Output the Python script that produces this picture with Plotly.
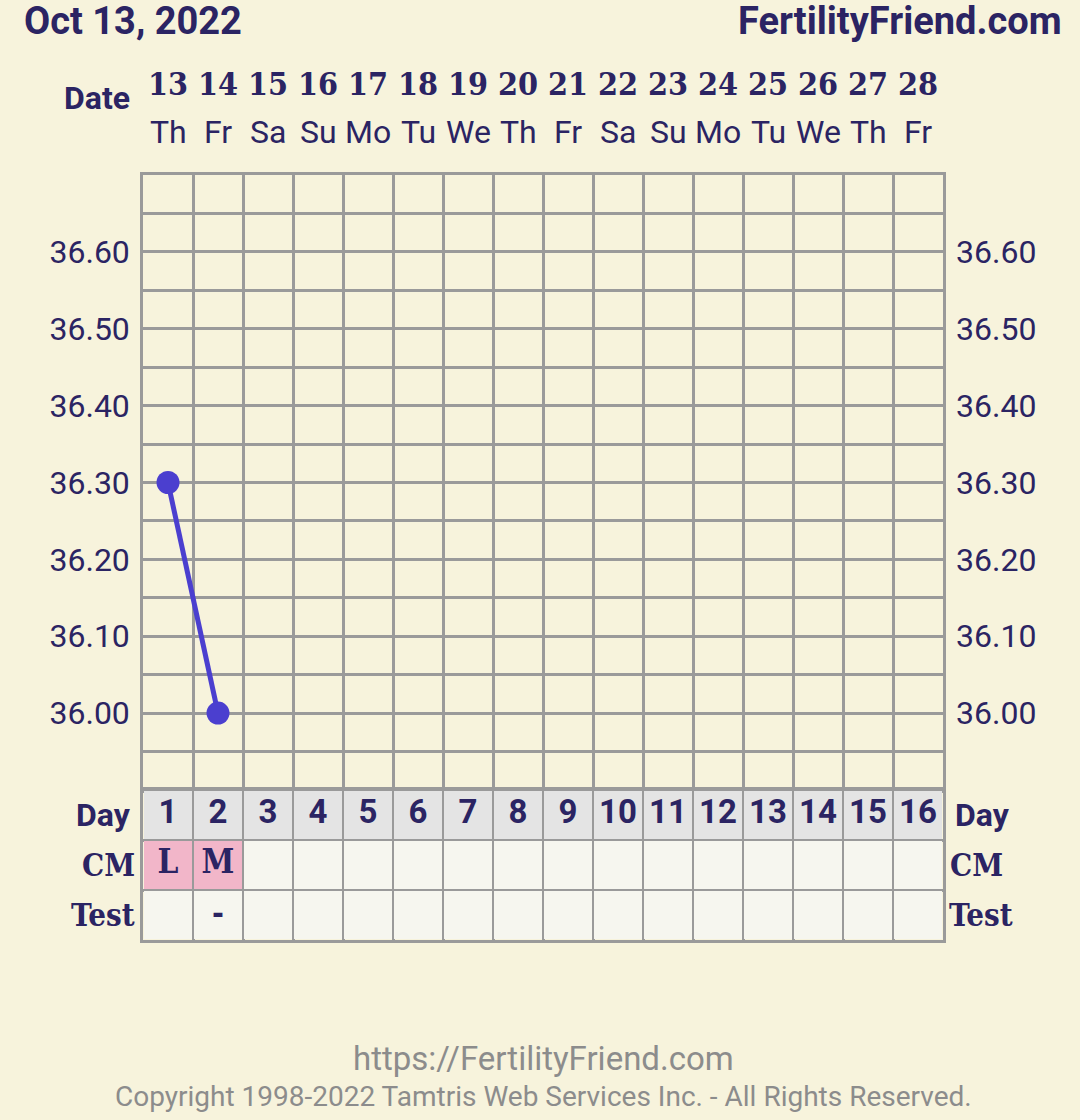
import plotly.graph_objects as go

# ---------------- data ----------------
title_date = "Oct 13, 2022"
site_name = "FertilityFriend.com"
dates = ["13", "14", "15", "16", "17", "18", "19", "20", "21", "22", "23", "24", "25", "26", "27", "28"]
weekdays = ["Th", "Fr", "Sa", "Su", "Mo", "Tu", "We", "Th", "Fr", "Sa", "Su", "Mo", "Tu", "We", "Th", "Fr"]
cycle_days = list(range(1, 17))
temp_days = [1, 2]
temps = [36.30, 36.00]
cm_values = ["L", "M", "", "", "", "", "", "", "", "", "", "", "", "", "", ""]
test_values = ["", "-", "", "", "", "", "", "", "", "", "", "", "", "", "", ""]
row_labels = ["Day", "CM", "Test"]
temp_grid = [35.95, 36.00, 36.05, 36.10, 36.15, 36.20, 36.25, 36.30, 36.35, 36.40, 36.45, 36.50, 36.55, 36.60, 36.65]
temp_labels = [36.00, 36.10, 36.20, 36.30, 36.40, 36.50, 36.60]
temp_range = [35.90, 36.70]
footer_url = "https://FertilityFriend.com"
footer_copy = "Copyright 1998-2022 Tamtris Web Services Inc. - All Rights Reserved."

# ---------------- styles ----------------
BG = "#F7F3DC"
NAVY = "#2B2463"
GRID = "#9A9A9A"
LINE = "#4B3FCF"
SANS = "Roboto"
SERIF = "DejaVu Serif Condensed, DejaVu Serif"
W, H = 1080, 1120
L, R, T, B = 143, 137, 175, 180
plot_h = H - T - B
split = (940 - 790) / plot_h


def py(px):
    return (H - B - px) / plot_h


def px_x(px):
    return (px - L) / (W - L - R)


fig = go.Figure()

# temperature line
fig.add_trace(go.Scatter(
    x=temp_days, y=temps, mode="lines+markers",
    line=dict(color=LINE, width=5),
    marker=dict(color=LINE, size=23),
    xaxis="x", yaxis="y", hoverinfo="skip", showlegend=False, cliponaxis=False))
# helper trace for right axis
fig.add_trace(go.Scatter(x=temp_days, y=temps, mode="lines", line=dict(width=0, color="rgba(0,0,0,0)"),
                         xaxis="x", yaxis="y3", hoverinfo="skip", showlegend=False))

# table cells
codes_day = [0 for _ in cycle_days]
codes_cm = [2 if v else 1 for v in cm_values]
codes_test = [1 for _ in cycle_days]
fig.add_trace(go.Heatmap(
    x=cycle_days, y=[1, 2, 3], z=[codes_day, codes_cm, codes_test],
    zmin=0, zmax=2, showscale=False, xgap=2, ygap=2,
    colorscale=[[0, "#E4E4E4"], [0.333, "#E4E4E4"], [0.333, "#F6F6EF"], [0.666, "#F6F6EF"],
                [0.666, "#F2B6C9"], [1, "#F2B6C9"]],
    xaxis="x2", yaxis="y2", hoverinfo="skip"))

fig.add_trace(go.Scatter(
    x=cycle_days, y=[1] * len(cycle_days), mode="text", text=[str(d) for d in cycle_days],
    textfont=dict(family=SANS, size=33, color=NAVY, weight="bold"),
    xaxis="x2", yaxis="y2", hoverinfo="skip", showlegend=False))
fig.add_trace(go.Scatter(
    x=cycle_days, y=[2] * len(cycle_days), mode="text", text=cm_values,
    textfont=dict(family=SERIF, size=33, color=NAVY, weight="bold"),
    xaxis="x2", yaxis="y2", hoverinfo="skip", showlegend=False))
fig.add_trace(go.Scatter(
    x=cycle_days, y=[3] * len(cycle_days), mode="text", text=test_values,
    textfont=dict(family=SERIF, size=32, color=NAVY, weight="bold"),
    xaxis="x2", yaxis="y2", hoverinfo="skip", showlegend=False))

half_ticks = [d + 0.5 for d in range(0, 17)]
ytext = [("%.2f" % v) if any(abs(v - t) < 1e-6 for t in temp_labels) else "" for v in temp_grid]

axis_common = dict(showline=True, mirror=True, linecolor=GRID, linewidth=2.5,
                   gridcolor=GRID, gridwidth=2.5, zeroline=False, fixedrange=True)

fig.update_layout(
    width=W, height=H, paper_bgcolor=BG, plot_bgcolor=BG,
    margin=dict(l=L, r=R, t=T, b=B, autoexpand=False),
    showlegend=False,
    xaxis=dict(domain=[0, 1], range=[0.5, 16.5], anchor="y", tickmode="array", tickvals=half_ticks,
               showticklabels=False, ticks="", showgrid=True, **axis_common),
    yaxis=dict(domain=[split, 1], range=temp_range, anchor="x", tickmode="array", tickvals=temp_grid,
               ticktext=ytext, ticks="", showgrid=True, ticklabelstandoff=4,
               tickfont=dict(family=SANS, size=32, color=NAVY), **axis_common),
    yaxis3=dict(overlaying="y", side="right", range=temp_range, anchor="x", tickmode="array",
                tickvals=temp_grid, ticktext=ytext, ticks="", showgrid=False, showline=False,
                zeroline=False, ticklabelstandoff=12, fixedrange=True,
                tickfont=dict(family=SANS, size=32, color=NAVY)),
    xaxis2=dict(domain=[0, 1], range=[0.5, 16.5], anchor="y2", tickmode="array", tickvals=half_ticks,
                showticklabels=False, ticks="", showgrid=True, **axis_common),
    yaxis2=dict(domain=[0, split], range=[3.5, 0.5], anchor="x2", tickmode="array", tickvals=[1.5, 2.5],
                showticklabels=False, ticks="", showgrid=True, **axis_common),
)

ann = []
ann.append(dict(text=title_date, xref="paper", yref="paper", x=px_x(22), y=py(21), xanchor="left",
                yanchor="middle", showarrow=False,
                font=dict(family=SANS, size=38, color=NAVY, weight="bold")))
ann.append(dict(text=site_name, xref="paper", yref="paper", x=px_x(1064), y=py(21), xanchor="right",
                yanchor="middle", showarrow=False,
                font=dict(family=SANS, size=38, color=NAVY, weight="bold")))
ann.append(dict(text="Date", xref="paper", yref="paper", x=0, xshift=-11, y=py(98), xanchor="right",
                yanchor="middle", showarrow=False,
                font=dict(family=SANS, size=32, color=NAVY, weight="bold")))
for d, dt, wd in zip(cycle_days, dates, weekdays):
    ann.append(dict(text=dt, xref="x", yref="paper", x=d, y=py(84), xanchor="center", yanchor="middle",
                    showarrow=False, font=dict(family=SERIF, size=32, color=NAVY, weight="bold")))
    ann.append(dict(text=wd, xref="x", yref="paper", x=d, y=py(132), xanchor="center", yanchor="middle",
                    showarrow=False, font=dict(family=SANS, size=32, color=NAVY)))

label_fonts = [SANS, SERIF, SERIF]
label_sizes = [32, 31, 31]
left_shift = [-10, -6, -6]
right_shift = [10, 5, 4]
for i, (lab, fam, sz) in enumerate(zip(row_labels, label_fonts, label_sizes)):
    ann.append(dict(text=lab, xref="paper", yref="y2", x=0, y=i + 1, xshift=left_shift[i],
                    xanchor="right", yanchor="middle", showarrow=False,
                    font=dict(family=fam, size=sz, color=NAVY, weight="bold")))
    ann.append(dict(text=lab, xref="paper", yref="y2", x=1, y=i + 1, xshift=right_shift[i],
                    xanchor="left", yanchor="middle", showarrow=False,
                    font=dict(family=fam, size=sz, color=NAVY, weight="bold")))

ann.append(dict(text=footer_url, xref="paper", yref="paper", x=px_x(543), y=py(1058), xanchor="center",
                yanchor="middle", showarrow=False, font=dict(family=SANS, size=33, color="#8C8C8C")))
ann.append(dict(text=footer_copy, xref="paper", yref="paper", x=px_x(543), y=py(1096), xanchor="center",
                yanchor="middle", showarrow=False, font=dict(family=SANS, size=28, color="#8C8C8C")))
fig.update_layout(annotations=ann)

fig.write_html("out.html", config={"displayModeBar": False},
               post_script="document.body.style.margin='0';document.body.style.background='%s';" % BG)
